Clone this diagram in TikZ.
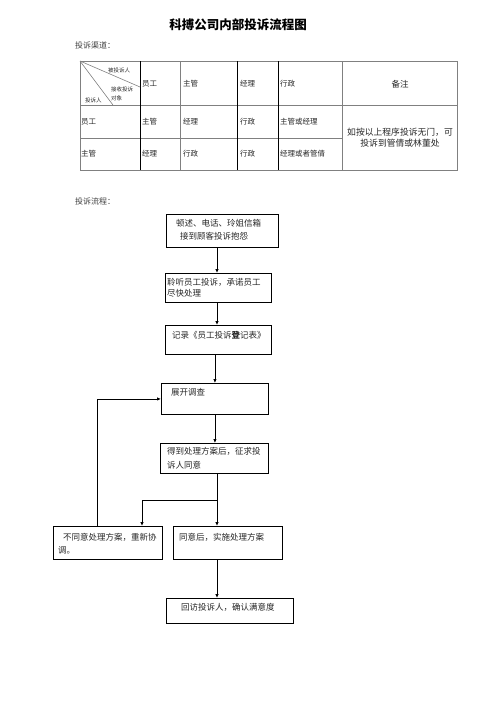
\documentclass[tikz,border=0pt]{standalone}
\usepackage{fontspec}
\setmainfont{Noto Sans CJK SC}
\usetikzlibrary{arrows.meta,positioning}

\begin{document}
\begin{tikzpicture}%
	[x=1pt, y=-1pt,
	grid/.style={color=black!50, line width=0.6pt},
	gridstrong/.style={color=black, line width=0.8pt},
	cell/.style={anchor=west, inner sep=0pt, font=\fontsize{7.5}{9}\selectfont, text=black!85},
	diagtext/.style={anchor=west, inner sep=0pt, font=\fontsize{5.5}{6.5}\selectfont, text=black!85},
	heading/.style={anchor=west, inner sep=0pt, font=\fontsize{8}{9}\selectfont, text=black!75},
	box/.style={draw=black, line width=0.9pt, rectangle, inner sep=0pt, anchor=north west},
	boxtext/.style={inner sep=0pt, align=left, font=\fontsize{8.5}{13}\selectfont, text=black!85},
	flow/.style={line width=0.9pt, -{Latex[length=4pt,width=3.5pt]}}]
	%
	\useasboundingbox (0,0) rectangle (496,702);
	%
	%% Title and headings
	%%
	\node[font=\fontsize{12.5}{14}\bfseries, inner sep=0pt] (title) at (238,25) {科搏公司内部投诉流程图};
	\node[heading] (channels) at (75,45) {投诉渠道：};
	\node[heading] (process) at (75,201) {投诉流程：};
	%%
	%%
	%% Drawing the table of channels
	%%
	\draw[grid] (80,61) rectangle (457,170);
	\draw[grid] (80,105) -- (457,105);
	\draw[grid] (80,138) -- (342,138);
	\draw[grid] (180,61) -- (180,170);
	\draw[grid] (342,61) -- (342,170);
	\draw[gridstrong] (140,61) -- (140,170);
	\draw[gridstrong] (237,61) -- (237,170);
	\draw[gridstrong] (278,61) -- (278,170);
	% diagonal header cell
	\draw[grid] (80,61) -- (140,87);
	\draw[grid] (80,61) -- (113,105);
	\node[diagtext] (target) at (108,70) {被投诉人};
	\node[diagtext] (receiver) at (111,89) {接收投诉};
	\node[diagtext] (receiver2) at (111,98) {对象};
	\node[diagtext] (source) at (85,100) {投诉人};
	% first row
	\node[cell] (h1) at (142,84) {员工};
	\node[cell] (h2) at (183,84) {主管};
	\node[cell] (h3) at (240,84) {经理};
	\node[cell] (h4) at (280,84) {行政};
	\node[cell, anchor=center, font=\fontsize{8.5}{10}\selectfont] (note) at (400,84) {备注};
	% second row
	\node[cell] (r1c0) at (81,122) {员工};
	\node[cell] (r1c1) at (142,122) {主管};
	\node[cell] (r1c2) at (183,122) {经理};
	\node[cell] (r1c3) at (240,122) {行政};
	\node[cell] (r1c4) at (280,122) {主管或经理};
	% third row
	\node[cell] (r2c0) at (81,154) {主管};
	\node[cell] (r2c1) at (142,154) {经理};
	\node[cell] (r2c2) at (183,154) {行政};
	\node[cell] (r2c3) at (240,154) {行政};
	\node[cell] (r2c4) at (280,154) {经理或者管倩};
	% merged remark
	\node[cell, anchor=center, align=center, font=\fontsize{8.8}{11}\selectfont] (remark) at (400,138) {如按以上程序投诉无门，可\\投诉到管倩或林董处};
	%%
	%%
	%% Drawing the boxes of the process
	%%
	\node[box, minimum width=112pt, minimum height=33pt] (b1) at (166,214) {};
	\node[box, minimum width=106pt, minimum height=29pt] (b2) at (165,273) {};
	\node[box, minimum width=106pt, minimum height=29pt] (b3) at (165,325) {};
	\node[box, minimum width=107pt, minimum height=31pt] (b4) at (161,383) {};
	\node[box, minimum width=108pt, minimum height=30pt] (b5) at (160,443) {};
	\node[box, minimum width=109pt, minimum height=33pt] (b6) at (53,526) {};
	\node[box, minimum width=109pt, minimum height=33pt] (b7) at (173,526) {};
	\node[box, minimum width=127pt, minimum height=25pt] (b8) at (166,598) {};
	%
	\node[boxtext, below right=5pt and 10pt of b1.north west] (t1) {顿述、电话、玲姐信箱\\\hspace*{4pt}接到顾客投诉抱怨};
	\node[boxtext, below right=5pt and 2pt of b2.north west, font=\fontsize{8.5}{11}\selectfont] (t2) {聆听员工投诉，承诺员工\\尽快处理};
	\node[boxtext, below right=6pt and 7pt of b3.north west] (t3) {记录《员工投诉\textbf{登}记表》};
	\node[boxtext, below right=5pt and 10pt of b4.north west] (t4) {展开调查};
	\node[boxtext, below right=4pt and 7pt of b5.north west, font=\fontsize{8.5}{14}\selectfont] (t5) {得到处理方案后，征求投\\诉人同意};
	\node[boxtext, below right=7pt and 5pt of b6.north west] (t6) {\hspace*{5pt}不同意处理方案，重新协\\调。};
	\node[boxtext, below right=7pt and 6pt of b7.north west] (t7) {同意后，实施处理方案};
	\node[boxtext, below right=5pt and 15pt of b8.north west] (t8) {回访投诉人，确认满意度};
	%%
	%%
	%% Drawing the connectors
	%%
	\coordinate (spine) at (217,0);
	\coordinate (split) at (217,500);
	\draw[flow] (b1.south -| spine) -- (b2.north -| spine);
	\draw[flow] (b2.south -| spine) -- (b3.north -| spine);
	\draw[flow] (b3.south -| b4.north) -- (b4.north);
	\draw[flow] (b4.south) -- (b5.north -| b4.south);
	\draw[line width=0.9pt] (b5.south -| spine) -- (split);
	\draw[flow] (split) -- (b7.north -| spine);
	\draw[flow] (split) -| ([xshift=89pt]b6.north west);
	\draw[flow] ([xshift=44pt]b6.north west) |- (b4.west);
	\draw[flow] (b7.south -| spine) -- (b8.north -| spine);

\end{tikzpicture}
\end{document}
